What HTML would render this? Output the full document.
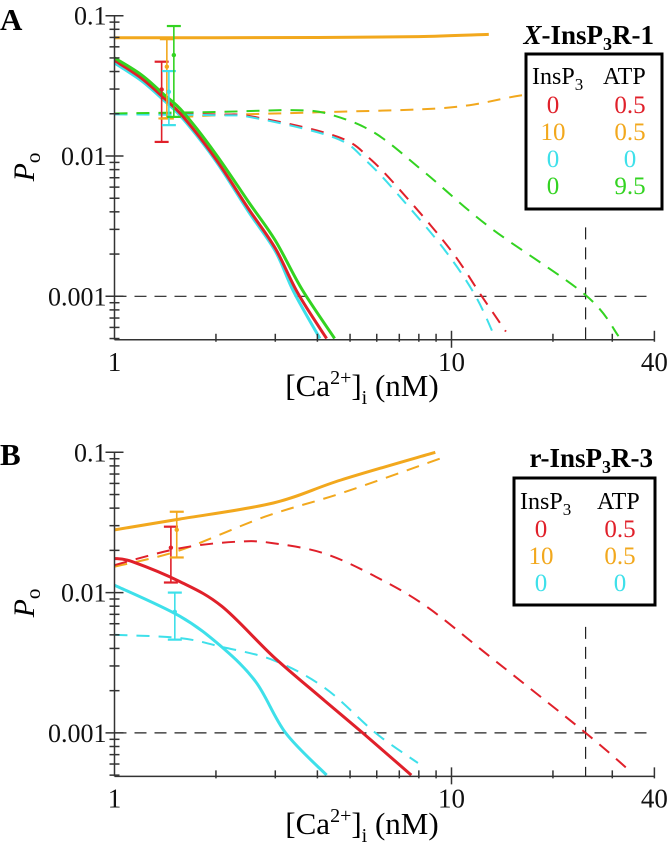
<!DOCTYPE html>
<html><head><meta charset="utf-8">
<style>
html,body{margin:0;padding:0;background:#fff;}
svg{display:block;font-family:"Liberation Serif",serif;}
</style></head>
<body>
<svg id="fig" width="668" height="853" viewBox="0 0 668 853" xmlns="http://www.w3.org/2000/svg"></svg>
<script>
// ---------- DATA ----------
const xTickValues = [1, 10, 40];
const xTickLabels = ["1", "10", "40"];
const yTickValues = [0.1, 0.01, 0.001];
const yTickLabels = ["0.1", "0.01", "0.001"];
const seriesColors = {red:"#e0202a", orange:"#f2a81d", cyan:"#3ee0ea", green:"#33d321"};

// Panel A (X-InsP3R-1)
const aOrangeSolidCa = [1, 2, 4, 8, 12.9];
const aOrangeSolidP  = [0.0697, 0.0697, 0.0699, 0.071, 0.0736];
const aOrangeDashCa  = [1.35, 2, 4, 8, 11.3, 16, 25, 40];
const aOrangeDashP   = [0.0185, 0.0195, 0.0205, 0.0215, 0.023, 0.027, 0.031, 0.036];
const aRedSolidCa    = [1, 1.2, 1.4, 1.6, 2, 2.5, 3, 3.5, 4.26];
const aRedSolidP     = [0.048, 0.036, 0.026, 0.019, 0.0095, 0.0042, 0.0022, 0.00105, 0.0005];
const aCyanSolidCa   = [1, 1.2, 1.4, 1.6, 2, 2.5, 3, 3.4, 4.07];
const aCyanSolidP    = [0.046, 0.0345, 0.025, 0.0183, 0.0092, 0.004, 0.0021, 0.00108, 0.0005];
const aGreenSolidCa  = [1, 1.2, 1.4, 1.6, 2, 2.5, 3, 3.6, 4.5];
const aGreenSolidP   = [0.05, 0.038, 0.0275, 0.0205, 0.0103, 0.0047, 0.0025, 0.00112, 0.0005];
const aRedDashCa     = [1, 2, 2.6, 4.6, 5.8, 7.5, 10, 12.3, 14.5];
const aRedDashP      = [0.0201, 0.0198, 0.019, 0.0137, 0.0093, 0.0048, 0.0021, 0.001, 0.00056];
const aCyanDashCa    = [1, 2, 2.6, 4.5, 5.6, 7.2, 9.6, 11.8, 13.5];
const aCyanDashP     = [0.0198, 0.0195, 0.0187, 0.0135, 0.0092, 0.0048, 0.0021, 0.001, 0.0005];
const aGreenDashCa   = [1, 2, 3.5, 4.45, 5.95, 8.4, 13, 25, 31.3];
const aGreenDashP    = [0.0201, 0.0206, 0.0212, 0.0195, 0.0145, 0.0075, 0.0031, 0.00102, 0.00052];
const aErrCa   = [1.38, 1.43, 1.45, 1.5];
const aErrMean = [0.0298, 0.0433, 0.0287, 0.0524];
const aErrHi   = [0.047, 0.068, 0.0403, 0.0844];
const aErrLo   = [0.0126, 0.0185, 0.0166, 0.019];
const aErrColor = ["red", "orange", "cyan", "green"];

// Panel B (r-InsP3R-3)
const bOrangeSolidCa = [1, 1.56, 2.96, 4.7, 8.95];
const bOrangeSolidP  = [0.028, 0.0334, 0.0435, 0.0635, 0.1];
const bOrangeDashCa  = [1, 1.56, 2.8, 4.7, 9.3];
const bOrangeDashP   = [0.0153, 0.02, 0.0348, 0.051, 0.0906];
const bRedDashCa     = [1, 1.56, 2.34, 2.96, 4.2, 5.95, 8.4, 13, 25, 34];
const bRedDashP      = [0.0157, 0.0207, 0.0231, 0.0225, 0.019, 0.013, 0.008, 0.0035, 0.001, 0.00053];
const bRedSolidCa    = [1, 1.13, 1.56, 2.08, 2.96, 4.2, 5.45, 7.6];
const bRedSolidP     = [0.0175, 0.0166, 0.012, 0.008, 0.0035, 0.0017, 0.001, 0.0005];
const bCyanSolidCa   = [1, 1.56, 2.08, 2.63, 3.22, 4.26];
const bCyanSolidP    = [0.0113, 0.0068, 0.0041, 0.0023, 0.001, 0.0005];
const bCyanDashCa    = [1, 1.56, 2.08, 2.96, 4.2, 5.95, 7.95];
const bCyanDashP     = [0.005, 0.00475, 0.0041, 0.0033, 0.0021, 0.001, 0.00061];
const bErrCa   = [1.47, 1.53, 1.51];
const bErrMean = [0.0209, 0.028, 0.0073];
const bErrHi   = [0.0295, 0.0377, 0.01];
const bErrLo   = [0.0118, 0.0178, 0.00462];
const bErrColor = ["red", "orange", "cyan"];

// ---------- DRAWING ----------
const NS = "http://www.w3.org/2000/svg";
const svg = document.getElementById("fig");
function mk(tag, attrs, parent){
  const e = document.createElementNS(NS, tag);
  for (const k in attrs) e.setAttribute(k, attrs[k]);
  (parent||svg).appendChild(e);
  return e;
}
const X0 = 114.5, XDEC = 337, XMAX = 40, PMIN = 0.00049;
function makeAxes(top01){
  const YDEC = 140.3;
  return {
    x: v => X0 + XDEC*Math.log10(v),
    y: p => top01 + YDEC*(-1 - Math.log10(p)),
  };
}
function smoothPath(pts){
  let d = "M" + pts[0][0].toFixed(1) + "," + pts[0][1].toFixed(1);
  for (let i = 0; i < pts.length - 1; i++){
    const p0 = pts[Math.max(0,i-1)], p1 = pts[i], p2 = pts[i+1], p3 = pts[Math.min(pts.length-1,i+2)];
    const c1x = p1[0] + (p2[0]-p0[0])/6, c1y = p1[1] + (p2[1]-p0[1])/6;
    const c2x = p2[0] - (p3[0]-p1[0])/6, c2y = p2[1] - (p3[1]-p1[1])/6;
    d += " C" + c1x.toFixed(1)+","+c1y.toFixed(1)+" "+c2x.toFixed(1)+","+c2y.toFixed(1)+" "+p2[0].toFixed(1)+","+p2[1].toFixed(1);
  }
  return d;
}
function drawPanel(g, ax, cfg){
  const xL = ax.x(1), xR = ax.x(XMAX), yB = ax.y(PMIN), yT = ax.y(0.1);
  const cid = "clip"+cfg.id;
  const cp = mk("clipPath", {id:cid}, g);
  mk("rect", {x:xL, y:yT-30, width:xR-xL+1, height:yB-yT+30}, cp);
  const ref = mk("g", {}, g);
  
  
  mk("line", {x1:xL, x2:xR, y1:ax.y(0.001), y2:ax.y(0.001), stroke:"#222", "stroke-width":1.2, "stroke-dasharray":"12,8"}, ref);
  mk("line", {x1:ax.x(25), x2:ax.x(25), y1:ax.y(cfg.vTop), y2:yB, stroke:"#222", "stroke-width":1.2, "stroke-dasharray":"12,8"}, ref);
  const sg = mk("g", {"clip-path":"url(#"+cid+")"}, g);
  cfg.series.forEach(s => {
    const pts = s.ca.map((c,i)=>[ax.x(c), ax.y(s.p[i])]);
    const path = mk("path", {d:smoothPath(pts), fill:"none", stroke:seriesColors[s.c], "stroke-width":s.dash?2:3, "stroke-linejoin":"round"}, sg);
    if (s.dash) path.setAttribute("stroke-dasharray","13,9");
    
    
  });
  cfg.err.ca.forEach((c,i)=>{
    const col = seriesColors[cfg.err.col[i]];
    const eg = mk("g", {stroke:col, fill:col, "stroke-width":1.6}, g);
    
    
    const xc = ax.x(c);
    mk("line",{x1:xc,x2:xc,y1:ax.y(cfg.err.hi[i]),y2:ax.y(cfg.err.lo[i])},eg);
    mk("line",{x1:xc-7,x2:xc+7,y1:ax.y(cfg.err.hi[i]),y2:ax.y(cfg.err.hi[i]),"stroke-width":2.2},eg);
    mk("line",{x1:xc-7,x2:xc+7,y1:ax.y(cfg.err.lo[i]),y2:ax.y(cfg.err.lo[i]),"stroke-width":2.2},eg);
    mk("circle",{cx:xc,cy:ax.y(cfg.err.mean[i]),r:2.2,stroke:"none"},eg);
  });
  const axg = mk("g", {stroke:"#333", "stroke-width":1.5}, g);
  
  
  mk("line",{x1:xL,x2:xR,y1:yB,y2:yB},axg);
  mk("line",{x1:xL,x2:xL,y1:yT,y2:yB},axg);
  const xt = [2,3,4,5,6,7,8,9,10,20,30,40];
  xt.forEach(v=>{ const xx=ax.x(v); mk("line",{x1:xx,x2:xx,y1:yB-(v===10||v===40?9:6),y2:yB+(v===10?8:2)},axg); });
  for (let dec=-1; dec>=-4; dec--){
    for (let m=1; m<=9; m++){
      const p = m*Math.pow(10,dec);
      if (p < PMIN || p > 0.1) continue;
      const yy = ax.y(p);
      const len = m===1?9:5;
      mk("line",{x1:xL-len,x2:xL+len,y1:yy,y2:yy},axg);
    }
  }
  xTickValues.forEach((v,i)=>{
    const t = mk("text",{x:ax.x(v),y:yB+31,"font-size":27,"text-anchor":"middle",fill:"#111"},g);
    t.textContent = xTickLabels[i];
    
    
  });
  yTickValues.forEach((v,i)=>{
    const t = mk("text",{x:xL-8,y:ax.y(v)+9,"font-size":26,"text-anchor":"end",fill:"#111"},g);
    t.textContent = yTickLabels[i];
    
    
  });
}

const axA = makeAxes(15.7);
const axB = makeAxes(452.3);
const gA = mk("g",{});  
const gB = mk("g",{});  

drawPanel(gA, axA, {id:"A", vTop:0.0031, series:[
  {ca:aOrangeDashCa,p:aOrangeDashP,c:"orange",dash:1,name:"a-orange-dashed"},
  {ca:aRedDashCa,p:aRedDashP,c:"red",dash:1,name:"a-red-dashed"},
  {ca:aCyanDashCa,p:aCyanDashP,c:"cyan",dash:1,name:"a-cyan-dashed"},
  {ca:aGreenDashCa,p:aGreenDashP,c:"green",dash:1,name:"a-green-dashed"},
  {ca:aOrangeSolidCa,p:aOrangeSolidP,c:"orange",dash:0,name:"a-orange-solid"},
  {ca:aCyanSolidCa,p:aCyanSolidP,c:"cyan",dash:0,name:"a-cyan-solid"},
  {ca:aRedSolidCa,p:aRedSolidP,c:"red",dash:0,name:"a-red-solid"},
  {ca:aGreenSolidCa,p:aGreenSolidP,c:"green",dash:0,name:"a-green-solid"}],
  err:{ca:aErrCa,mean:aErrMean,hi:aErrHi,lo:aErrLo,col:aErrColor}});

drawPanel(gB, axB, {id:"B", vTop:0.0057, series:[
  {ca:bOrangeDashCa,p:bOrangeDashP,c:"orange",dash:1,name:"b-orange-dashed"},
  {ca:bRedDashCa,p:bRedDashP,c:"red",dash:1,name:"b-red-dashed"},
  {ca:bCyanDashCa,p:bCyanDashP,c:"cyan",dash:1,name:"b-cyan-dashed"},
  {ca:bOrangeSolidCa,p:bOrangeSolidP,c:"orange",dash:0,name:"b-orange-solid"},
  {ca:bRedSolidCa,p:bRedSolidP,c:"red",dash:0,name:"b-red-solid"},
  {ca:bCyanSolidCa,p:bCyanSolidP,c:"cyan",dash:0,name:"b-cyan-solid"}],
  err:{ca:bErrCa,mean:bErrMean,hi:bErrHi,lo:bErrLo,col:bErrColor}});
</script>

<svg width="668" height="853" viewBox="0 0 668 853" style="position:absolute;left:0;top:0;font-family:'Liberation Serif',serif" xmlns="http://www.w3.org/2000/svg">
  <text x="0" y="30" font-size="31" font-weight="bold">A</text>
  <text x="0" y="465" font-size="31" font-weight="bold">B</text>

  <text x="654" y="44" font-size="27" font-weight="bold" text-anchor="end"><tspan font-style="italic">X</tspan>-InsP<tspan font-size="18" dy="6">3</tspan><tspan dy="-6">R-1</tspan></text>
  <text x="653" y="467" font-size="27" font-weight="bold" text-anchor="end">r-InsP<tspan font-size="18" dy="6">3</tspan><tspan dy="-6">R-3</tspan></text>

  <g>
    <rect x="526" y="54" width="136" height="155" fill="#fff" stroke="#000" stroke-width="3"/>
    <text x="532" y="84" font-size="24">InsP<tspan font-size="17" dy="6">3</tspan></text>
    <text x="603" y="84" font-size="24">ATP</text>
    <g font-size="25" text-anchor="middle">
      <text x="553" y="113" fill="#e0202a">0</text><text x="630" y="113" fill="#e0202a">0.5</text>
      <text x="553" y="140" fill="#f2a81d">10</text><text x="630" y="140" fill="#f2a81d">0.5</text>
      <text x="553" y="167" fill="#3ee0ea">0</text><text x="630" y="167" fill="#3ee0ea">0</text>
      <text x="553" y="194" fill="#33d321">0</text><text x="630" y="194" fill="#33d321">9.5</text>
    </g>
  </g>
  <g>
    <rect x="514" y="478" width="141" height="127" fill="#fff" stroke="#000" stroke-width="3"/>
    <text x="520" y="509" font-size="24">InsP<tspan font-size="17" dy="6">3</tspan></text>
    <text x="597" y="509" font-size="24">ATP</text>
    <g font-size="25" text-anchor="middle">
      <text x="541" y="537" fill="#e0202a">0</text><text x="620" y="537" fill="#e0202a">0.5</text>
      <text x="541" y="564" fill="#f2a81d">10</text><text x="620" y="564" fill="#f2a81d">0.5</text>
      <text x="541" y="591" fill="#3ee0ea">0</text><text x="620" y="591" fill="#3ee0ea">0</text>
    </g>
  </g>

  <text transform="translate(34,167) rotate(-90)" font-size="30" text-anchor="middle"><tspan font-style="italic">P</tspan><tspan font-size="21" dy="6">o</tspan></text>
  <text transform="translate(34,603) rotate(-90)" font-size="30" text-anchor="middle"><tspan font-style="italic">P</tspan><tspan font-size="21" dy="6">o</tspan></text>

  <text x="362" y="396" font-size="31" text-anchor="middle">[Ca<tspan font-size="20" dy="-12">2+</tspan><tspan dy="12">]</tspan><tspan font-size="20" dy="8">i</tspan><tspan dy="-8"> (nM)</tspan></text>
  <text x="362" y="834" font-size="31" text-anchor="middle">[Ca<tspan font-size="20" dy="-12">2+</tspan><tspan dy="12">]</tspan><tspan font-size="20" dy="8">i</tspan><tspan dy="-8"> (nM)</tspan></text>
</svg>
</body></html>
